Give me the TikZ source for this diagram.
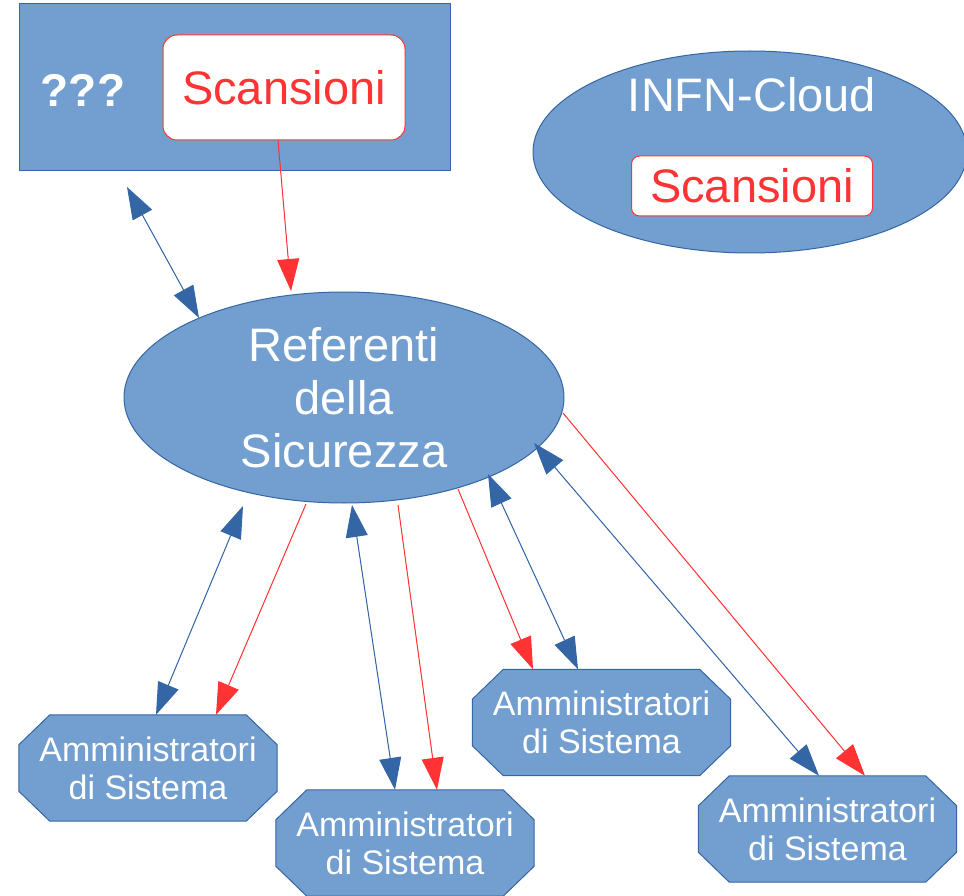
\documentclass[tikz,border=0pt]{standalone}
\usepackage{fontspec}
\setmainfont{Liberation Sans}
\usetikzlibrary{shapes.geometric,arrows.meta,backgrounds}
\definecolor{bfill}{HTML}{729FCF}
\definecolor{bline}{HTML}{3465A4}
\definecolor{rline}{HTML}{FF3333}
\tikzset{
  bigfont/.style={font=\fontsize{47}{53}\selectfont},
  smallfont/.style={font=\fontsize{34}{38}\selectfont},
  bluebox/.style={draw=bline,fill=bfill,line width=1pt},
  scanbox/.style={draw=rline,fill=white,rounded corners=12pt,line width=1pt,text=rline,bigfont,inner sep=0pt},
  admin/.style={rectangle,minimum width=258pt,minimum height=106pt,inner sep=0pt,text=white,smallfont,align=center},
  bluearr/.style={draw=bline,line width=1pt,{Triangle[length=32pt,width=22pt]}-{Triangle[length=32pt,width=22pt]},fill=bline},
  redarr/.style={draw=rline,line width=1pt,-{Triangle[length=32pt,width=22pt]},fill=rline}
}
\newcommand\octshape[1]{%
  \draw[bluebox] ([xshift=31pt]#1.north west) -- ([xshift=-31pt]#1.north east)
    -- ([yshift=-30pt]#1.north east) -- ([yshift=30pt]#1.south east)
    -- ([xshift=-31pt]#1.south east) -- ([xshift=31pt]#1.south west)
    -- ([yshift=30pt]#1.south west) -- ([yshift=-30pt]#1.north west) -- cycle;}
\begin{document}
\begin{tikzpicture}[x=1pt,y=-1pt]
\useasboundingbox (0,0) rectangle (964,896);
% top-left box
\node[bluebox,minimum width=431pt,minimum height=167pt,inner sep=0pt] (tl) at (234.5,87.5) {};
\node[text=white,font=\fontsize{46}{53}\selectfont\bfseries] (qq) at (83,90) {???};
\node[scanbox,minimum width=242pt,minimum height=105pt,rounded corners=14pt] (s1) at (284,87.5) {Scansioni};
% INFN-Cloud
\node[bluebox,ellipse,minimum width=434pt,minimum height=202pt,inner sep=0pt] (cloud) at (750,152) {};
\node[text=white,bigfont] (cl) at (752,95) {INFN-Cloud};
\node[scanbox,minimum width=241pt,minimum height=60pt,rounded corners=8pt] (s2) at (752,186) {Scansioni};
% Referenti
\node[bluebox,ellipse,minimum width=440pt,minimum height=211pt,inner sep=0pt,text=white,bigfont,align=center] (ref) at (344,397.5) {Referenti\\della\\Sicurezza};
% admins
\node[admin] (a1) at (148,768) {Amministratori\\di Sistema};
\node[admin] (a2) at (405,843) {Amministratori\\di Sistema};
\node[admin] (a3) at (601.5,722.5) {Amministratori\\di Sistema};
\node[admin] (a4) at (827.5,829) {Amministratori\\di Sistema};
\begin{scope}[on background layer]
\octshape{a1}
\octshape{a2}
\octshape{a3}
\octshape{a4}
\end{scope}
% coordinates
\coordinate (q1) at (127,187);
\coordinate (r0) at (199,318);
\coordinate (r1) at (291,291);
\coordinate (e1b) at (243,506);
\coordinate (e1r) at (306,504);
\coordinate (e2b) at (352,505);
\coordinate (e2r) at (398,505);
\coordinate (e3r) at (458,489);
\coordinate (e3b) at (488,474);
\coordinate (e4b) at (534,443);
\coordinate (e4r) at (563,413);
% connectors
\draw[bluearr] (q1) -- (r0);
\draw[redarr] ([xshift=-6pt]s1.south) -- (r1);
\draw[bluearr] (e1b) -- ([xshift=8pt]a1.north);
\draw[redarr] (e1r) -- ([xshift=68pt]a1.north);
\draw[bluearr] (e2b) -- ([xshift=-10pt]a2.north);
\draw[redarr] (e2r) -- ([xshift=32pt]a2.north);
\draw[redarr] (e3r) -- ([xshift=-68.5pt]a3.north);
\draw[bluearr] (e3b) -- ([xshift=-23.5pt]a3.north);
\draw[bluearr] (e4b) -- ([xshift=-8.5pt]a4.north);
\draw[redarr] (e4r) -- ([xshift=37.5pt]a4.north);
\end{tikzpicture}
\end{document}
